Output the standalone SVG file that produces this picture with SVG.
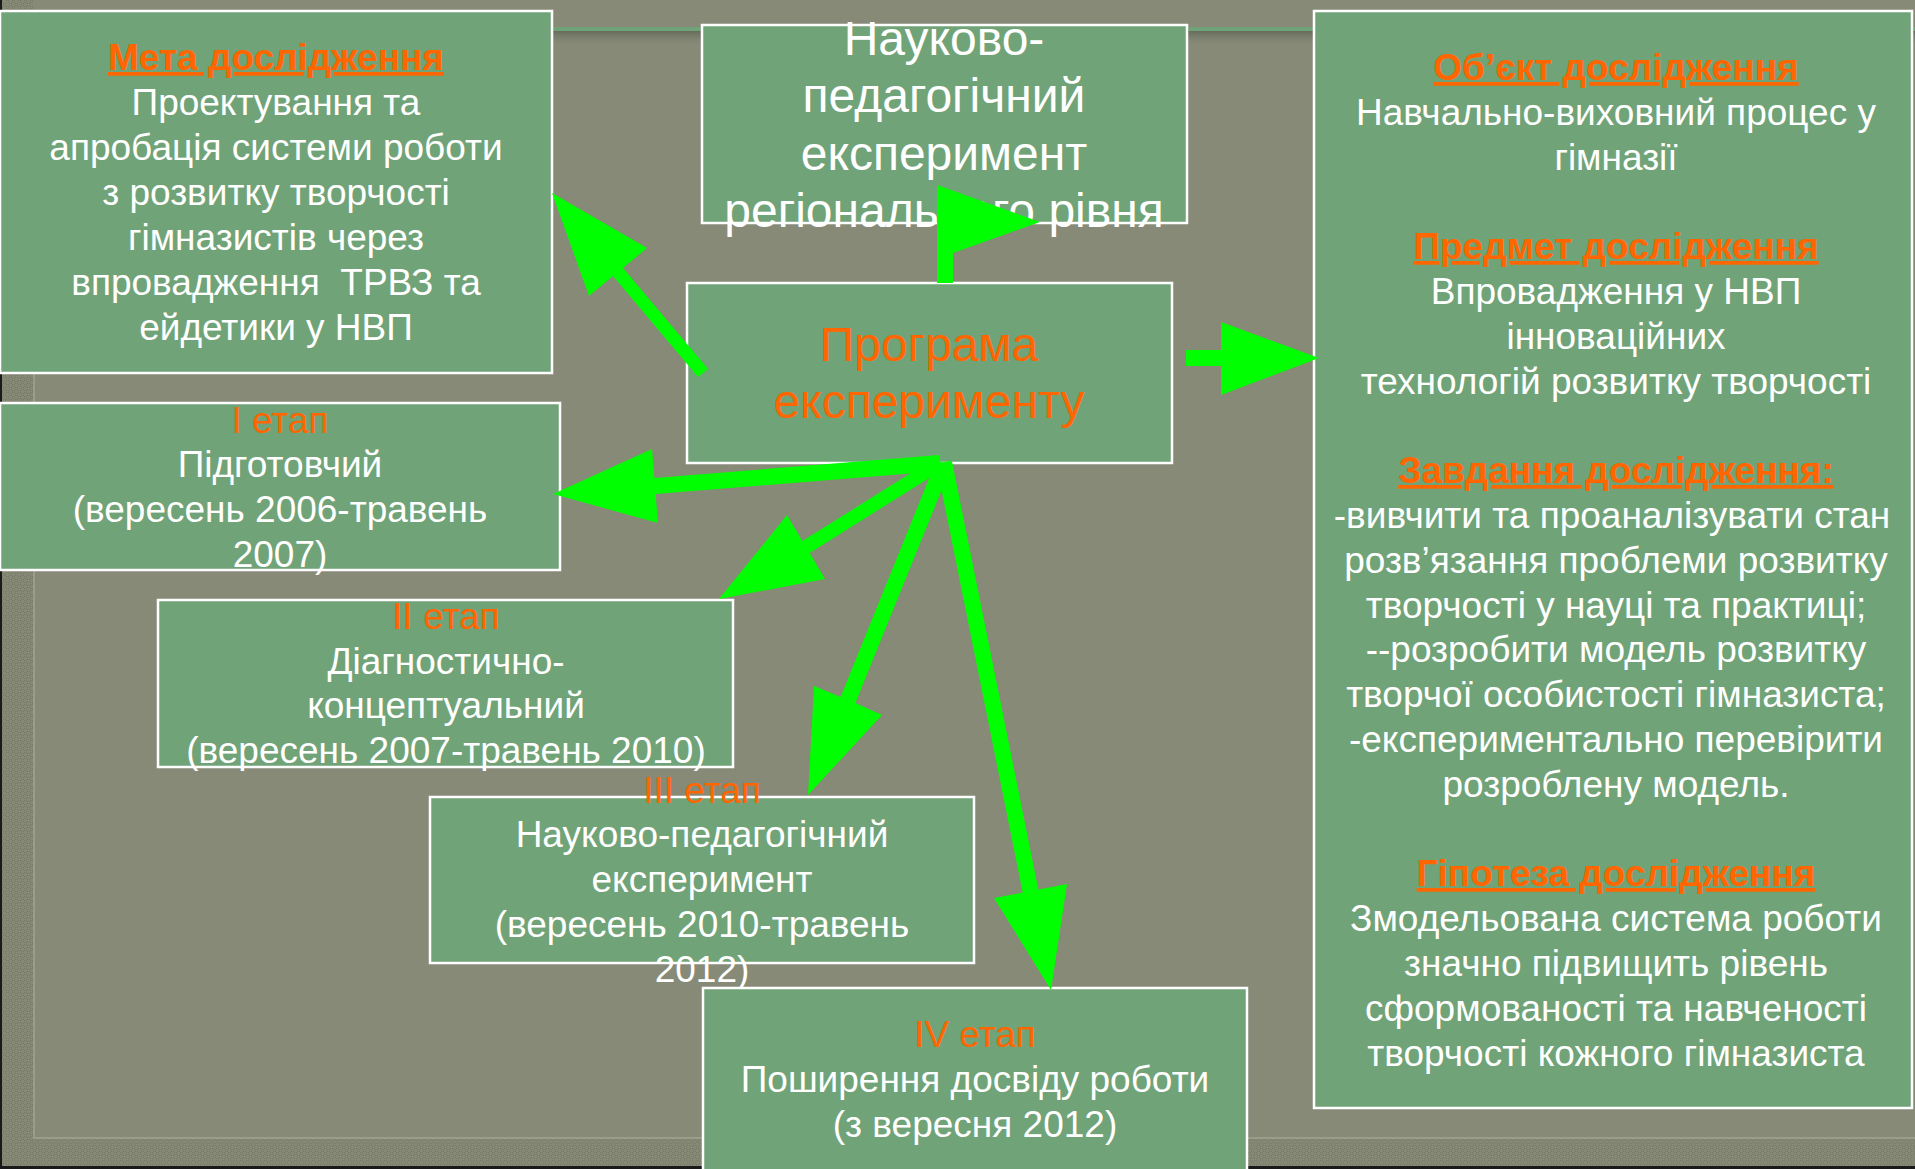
<svg xmlns="http://www.w3.org/2000/svg" width="1915" height="1169" viewBox="0 0 1915 1169">
  <defs>
    <pattern id="tex" width="6" height="6" patternUnits="userSpaceOnUse">
      <rect width="6" height="6" fill="#858975"/>
      <rect x="0" y="0" width="3" height="3" fill="#7b7f6c"/>
      <rect x="3" y="3" width="3" height="3" fill="#7b7f6c"/>
      <rect x="1" y="1" width="1" height="1" fill="#939683"/>
      <rect x="4" y="4" width="1" height="1" fill="#939683"/>
    </pattern>
    <linearGradient id="shadow" x1="0" y1="0" x2="0" y2="1">
      <stop offset="0" stop-color="#5f6354" stop-opacity="0.8"/>
      <stop offset="1" stop-color="#868a77" stop-opacity="0"/>
    </linearGradient>
  </defs>
  <style>
    .box { fill:#71a378; stroke:#ffffff; stroke-width:2.5; }
    .t { font-family:"Liberation Sans", Arial, sans-serif; font-size:37px; fill:#ffffff; text-anchor:middle; }
    .h { fill:#ff6600; font-weight:bold; text-decoration:underline; text-decoration-thickness:3px; }
    .o { fill:#ff6600; }
    .big { font-size:48px; }
    .arrow { fill:#00ff00; }
  </style>

  <g id="background">
    <rect x="0" y="0" width="1915" height="1169" fill="url(#tex)"/>
    <rect x="33" y="0" width="1882" height="1138" fill="#868a77"/>
    <rect x="33" y="31" width="1882" height="16" fill="url(#shadow)"/>
    <rect x="33" y="27" width="1882" height="4" fill="#6fa277"/>
    <line x1="34" y1="31" x2="34" y2="1138" stroke="#9a9d89" stroke-width="2"/>
    <line x1="33" y1="1138" x2="1915" y2="1138" stroke="#9a9d89" stroke-width="2"/>
    <rect x="0" y="0" width="2" height="1169" fill="#1a1a1a"/>
    <rect x="0" y="1166" width="1915" height="3" fill="#1a1a1a"/>
  </g>

  <g id="node-meta">
    <rect class="box" x="0" y="11" width="552" height="362"/>
    <text class="t h" x="276" y="70">Мета дослідження</text>
    <text class="t" x="276" y="115">Проектування та</text>
    <text class="t" x="276" y="160">апробація системи роботи</text>
    <text class="t" x="276" y="205">з розвитку творчості</text>
    <text class="t" x="276" y="250">гімназистів через</text>
    <text class="t" x="276" y="295" xml:space="preserve">впровадження  ТРВЗ та</text>
    <text class="t" x="276" y="340">ейдетики у НВП</text>
  </g>

  <g id="node-top">
    <rect class="box" x="702" y="25" width="485" height="198"/>
    <text class="t big" x="944" y="55">Науково-</text>
    <text class="t big" x="944" y="112">педагогічний</text>
    <text class="t big" x="944" y="170">експеримент</text>
    <text class="t big" x="944" y="227">регіонального рівня</text>
  </g>

  <g id="node-program">
    <rect class="box" x="687" y="283" width="485" height="180"/>
    <text class="t big o" x="929" y="361">Програма</text>
    <text class="t big o" x="929" y="418">експерименту</text>
  </g>

  <g id="node-right">
    <rect class="box" x="1314" y="11" width="598" height="1097"/>
    <text class="t h" x="1616" y="80">Об’єкт дослідження</text>
    <text class="t" x="1616" y="125">Навчально-виховний процес у</text>
    <text class="t" x="1616" y="170">гімназії</text>
    <text class="t h" x="1616" y="259">Предмет дослідження</text>
    <text class="t" x="1616" y="304">Впровадження у НВП</text>
    <text class="t" x="1616" y="349">інноваційних</text>
    <text class="t" x="1616" y="394">технологій розвитку творчості</text>
    <text class="t h" x="1616" y="483">Завдання дослідження:</text>
    <text class="t" x="1612" y="528">-вивчити та проаналізувати стан</text>
    <text class="t" x="1616" y="573">розв’язання проблеми розвитку</text>
    <text class="t" x="1616" y="618">творчості у науці та практиці;</text>
    <text class="t" x="1616" y="662">--розробити модель розвитку</text>
    <text class="t" x="1616" y="707">творчої особистості гімназиста;</text>
    <text class="t" x="1616" y="752">-експериментально перевірити</text>
    <text class="t" x="1616" y="797">розроблену модель.</text>
    <text class="t h" x="1616" y="886">Гіпотеза дослідження</text>
    <text class="t" x="1616" y="931">Змодельована система роботи</text>
    <text class="t" x="1616" y="976">значно підвищить рівень</text>
    <text class="t" x="1616" y="1021">сформованості та навченості</text>
    <text class="t" x="1616" y="1066">творчості кожного гімназиста</text>
  </g>

  <g id="node-stage1">
    <rect class="box" x="0" y="403" width="560" height="167"/>
    <text class="t o" x="280" y="433">I етап</text>
    <text class="t" x="280" y="477">Підготовчий</text>
    <text class="t" x="280" y="522">(вересень 2006-травень</text>
    <text class="t" x="280" y="567">2007)</text>
  </g>

  <g id="node-stage2">
    <rect class="box" x="158" y="600" width="575" height="167"/>
    <text class="t o" x="446" y="629">II етап</text>
    <text class="t" x="446" y="674">Діагностично-</text>
    <text class="t" x="446" y="718">концептуальний</text>
    <text class="t" x="446" y="763">(вересень 2007-травень 2010)</text>
  </g>

  <g id="node-stage3">
    <rect class="box" x="430" y="797" width="544" height="166"/>
    <text class="t o" x="702" y="803">III етап</text>
    <text class="t" x="702" y="847">Науково-педагогічний</text>
    <text class="t" x="702" y="892">експеримент</text>
    <text class="t" x="702" y="937">(вересень 2010-травень</text>
    <text class="t" x="702" y="982">2012)</text>
  </g>

  <g id="node-stage4">
    <rect class="box" x="703" y="988" width="544" height="190"/>
    <text class="t o" x="975" y="1047">IV етап</text>
    <text class="t" x="975" y="1092">Поширення досвіду роботи</text>
    <text class="t" x="975" y="1137">(з вересня 2012)</text>
  </g>

  <g id="connectors" class="arrow">
    <polygon points="698,377 613,276 589,296 552,193 647,248 623,268 708,369"/>
    <polygon points="937,283 937,185 1040,222 953,253 953,283"/>
    <polygon points="1186,350 1221,350 1221,322 1319,358 1221,395 1221,366 1186,366"/>
    <polygon points="940.6,471 655.6,494 658,523 553,494 652,449 654.4,478 939.4,455"/>
    <polygon points="943.7,468.9 809.7,552.9 825,579 719,599 787,515 802.3,541.1 936.3,457.1"/>
    <polygon points="951.4,466 855.4,703 882,715 808,795 814,686 840.6,697 936.6,460"/>
    <polygon points="951.8,460.4 1038.3,889.4 1067,884 1051,990 994,898 1022.7,892.6 936.2,463.6"/>
  </g>
</svg>
